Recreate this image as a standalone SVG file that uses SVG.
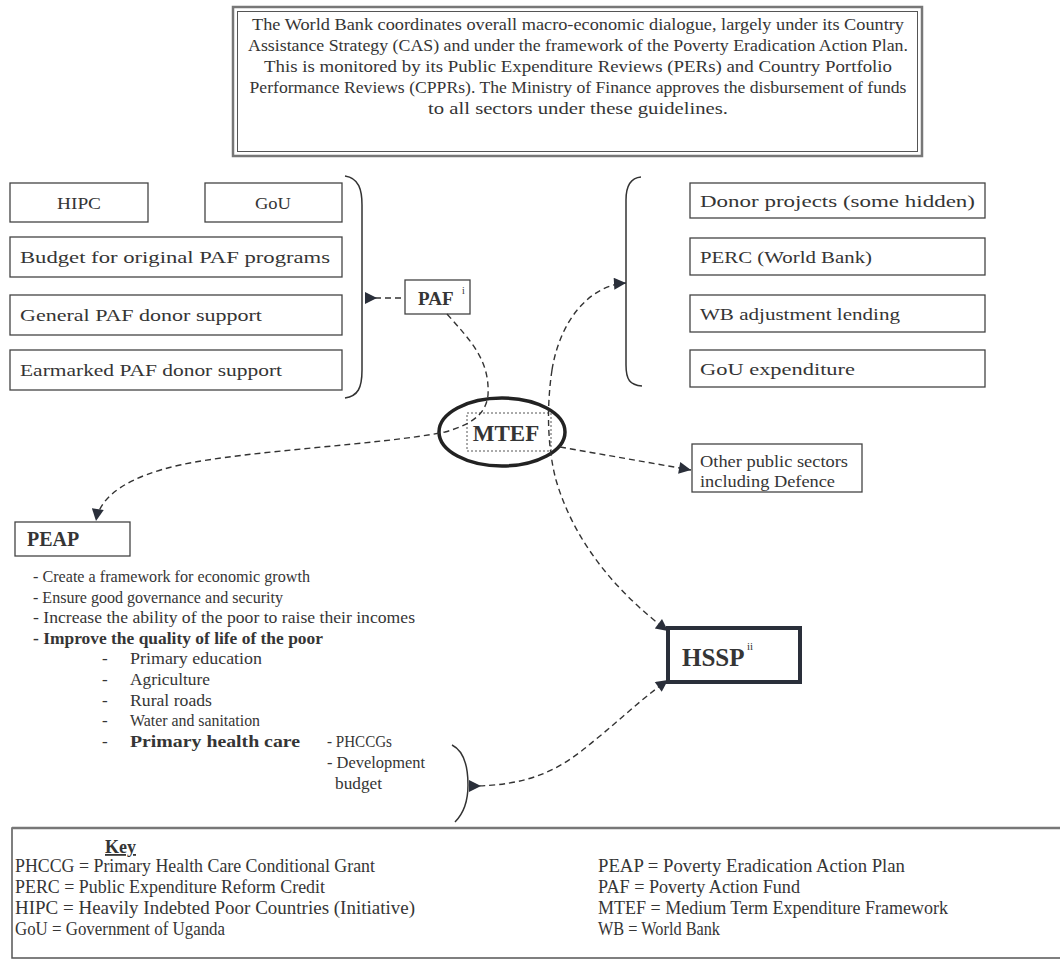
<svg xmlns="http://www.w3.org/2000/svg" width="1060" height="977" viewBox="0 0 1060 977">
<style>
text{font-family:"Liberation Serif","Times New Roman",serif;fill:#353535}
.t{font-size:17px}
.k{font-size:18.5px}
.b{font-weight:bold}
.box{fill:none;stroke:#444;stroke-width:1.3}
.con{fill:none;stroke:#333;stroke-width:1.4;stroke-dasharray:6 4}
.brace{fill:none;stroke:#333;stroke-width:1.5}
</style>
<defs>
<marker id="ah" viewBox="0 0 10 10" refX="10" refY="5" markerWidth="15" markerHeight="12" orient="auto" markerUnits="userSpaceOnUse">
<path d="M0,0 L10,5 L0,10 Z" fill="#2a2f3a"/>
</marker>
<marker id="as" viewBox="0 0 10 10" refX="0" refY="5" markerWidth="15" markerHeight="12" orient="auto" markerUnits="userSpaceOnUse">
<path d="M0,0 L10,5 L0,10 Z" fill="#2a2f3a"/>
</marker>
</defs>
<rect width="1060" height="977" fill="#fff"/>

<g id="top-note">
<rect x="233" y="7" width="689" height="149" fill="none" stroke="#777" stroke-width="2.5"/>
<rect x="237.5" y="11.5" width="680" height="140" fill="none" stroke="#555" stroke-width="1"/>
<text class="t" x="578" y="30" text-anchor="middle" textLength="652" lengthAdjust="spacingAndGlyphs">The World Bank coordinates overall macro-economic dialogue, largely under its Country</text>
<text class="t" x="578" y="51" text-anchor="middle" textLength="660" lengthAdjust="spacingAndGlyphs">Assistance Strategy (CAS) and under the framework of the Poverty Eradication Action Plan.</text>
<text class="t" x="578" y="72" text-anchor="middle" textLength="628" lengthAdjust="spacingAndGlyphs">This is monitored by its Public Expenditure Reviews (PERs) and Country Portfolio</text>
<text class="t" x="578" y="93" text-anchor="middle" textLength="657" lengthAdjust="spacingAndGlyphs">Performance Reviews (CPPRs). The Ministry of Finance approves the disbursement of funds</text>
<text class="t" x="578" y="114" text-anchor="middle" textLength="300" lengthAdjust="spacingAndGlyphs">to all sectors under these guidelines.</text>
</g>

<g id="hipc"><rect class="box" x="10" y="183" width="138" height="39"/><text class="t" x="79" y="209" text-anchor="middle" textLength="44" lengthAdjust="spacingAndGlyphs">HIPC</text></g>
<g id="gou"><rect class="box" x="205" y="183" width="137" height="39"/><text class="t" x="273" y="209" text-anchor="middle" textLength="36" lengthAdjust="spacingAndGlyphs">GoU</text></g>
<g id="budget"><rect class="box" x="10" y="237" width="332" height="40"/><text class="t" x="20" y="263" textLength="310" lengthAdjust="spacingAndGlyphs">Budget for original PAF programs</text></g>
<g id="general"><rect class="box" x="10" y="295" width="332" height="40"/><text class="t" x="20" y="321" textLength="242" lengthAdjust="spacingAndGlyphs">General PAF donor support</text></g>
<g id="earmarked"><rect class="box" x="10" y="350" width="332" height="40"/><text class="t" x="20" y="376" textLength="262" lengthAdjust="spacingAndGlyphs">Earmarked PAF donor support</text></g>

<g id="donor"><rect class="box" x="690" y="183" width="295" height="35"/><text class="t" x="700" y="207" textLength="275" lengthAdjust="spacingAndGlyphs">Donor projects (some hidden)</text></g>
<g id="perc"><rect class="box" x="690" y="238" width="295" height="37"/><text class="t" x="700" y="263" textLength="172" lengthAdjust="spacingAndGlyphs">PERC (World Bank)</text></g>
<g id="wb"><rect class="box" x="690" y="295" width="295" height="37"/><text class="t" x="700" y="320" textLength="200" lengthAdjust="spacingAndGlyphs">WB adjustment lending</text></g>
<g id="gouexp"><rect class="box" x="690" y="350" width="295" height="37"/><text class="t" x="700" y="375" textLength="155" lengthAdjust="spacingAndGlyphs">GoU expenditure</text></g>

<g id="paf"><rect class="box" x="405" y="280" width="65" height="34"/><text class="b" x="418" y="305" font-size="19">PAF</text><text x="462" y="294" font-size="10">i</text></g>

<g id="mtef">
<ellipse cx="502" cy="432" rx="63" ry="34" fill="none" stroke="#222" stroke-width="3.5"/>
<rect x="467" y="413" width="84" height="38" fill="none" stroke="#555" stroke-width="1" stroke-dasharray="2 2"/>
<text class="b" x="506" y="441" font-size="23" text-anchor="middle">MTEF</text>
</g>

<g id="other"><rect class="box" x="692" y="444" width="170" height="48"/><text class="t" x="700" y="467" textLength="148" lengthAdjust="spacingAndGlyphs">Other public sectors</text><text class="t" x="700" y="487" textLength="135" lengthAdjust="spacingAndGlyphs">including Defence</text></g>

<g id="peap"><rect class="box" x="15" y="522" width="115" height="34"/><text class="b" x="27" y="546" font-size="20">PEAP</text></g>

<g id="peap-list">
<text class="t" x="33" y="582" textLength="277" lengthAdjust="spacingAndGlyphs">- Create a framework for economic growth</text>
<text class="t" x="33" y="603" textLength="250" lengthAdjust="spacingAndGlyphs">- Ensure good governance and security</text>
<text class="t" x="33" y="623" textLength="382" lengthAdjust="spacingAndGlyphs">- Increase the ability of the poor to raise their incomes</text>
<text class="t b" x="33" y="644" textLength="290" lengthAdjust="spacingAndGlyphs">- Improve the quality of life of the poor</text>
<text class="t" x="102" y="664">-</text><text class="t" x="130" y="664" textLength="132" lengthAdjust="spacingAndGlyphs">Primary education</text>
<text class="t" x="102" y="685">-</text><text class="t" x="130" y="685" textLength="80" lengthAdjust="spacingAndGlyphs">Agriculture</text>
<text class="t" x="102" y="706">-</text><text class="t" x="130" y="706" textLength="82" lengthAdjust="spacingAndGlyphs">Rural roads</text>
<text class="t" x="102" y="726">-</text><text class="t" x="130" y="726" textLength="130" lengthAdjust="spacingAndGlyphs">Water and sanitation</text>
<text class="t" x="102" y="747">-</text><text class="t b" x="130" y="747" textLength="170" lengthAdjust="spacingAndGlyphs">Primary health care</text>
<text class="t" x="327" y="747" textLength="65" lengthAdjust="spacingAndGlyphs">- PHCCGs</text>
<text class="t" x="327" y="768" textLength="98" lengthAdjust="spacingAndGlyphs">- Development</text>
<text class="t" x="335" y="789" textLength="47" lengthAdjust="spacingAndGlyphs">budget</text>
</g>

<g id="hssp"><rect x="668" y="628" width="132" height="54" fill="none" stroke="#2a2f3a" stroke-width="4"/><text class="b" x="682" y="666" font-size="25">HSSP</text><text x="747" y="650" font-size="11">ii</text></g>

<g id="key">
<rect x="12" y="828" width="1060" height="130" fill="none" stroke="#555" stroke-width="1.5"/>
<line x1="12" y1="828" x2="1060" y2="828" stroke="#777" stroke-width="2.5"/>
<text class="b" x="105" y="853" font-size="18" text-decoration="underline">Key</text>
<text class="k" x="15" y="872" textLength="360" lengthAdjust="spacingAndGlyphs">PHCCG = Primary Health Care Conditional Grant</text>
<text class="k" x="15" y="893" textLength="310" lengthAdjust="spacingAndGlyphs">PERC = Public Expenditure Reform Credit</text>
<text class="k" x="15" y="914" textLength="400" lengthAdjust="spacingAndGlyphs">HIPC = Heavily Indebted Poor Countries (Initiative)</text>
<text class="k" x="15" y="935" textLength="210" lengthAdjust="spacingAndGlyphs">GoU = Government of Uganda</text>
<text class="k" x="598" y="872" textLength="307" lengthAdjust="spacingAndGlyphs">PEAP = Poverty Eradication Action Plan</text>
<text class="k" x="598" y="893" textLength="202" lengthAdjust="spacingAndGlyphs">PAF = Poverty Action Fund</text>
<text class="k" x="598" y="914" textLength="350" lengthAdjust="spacingAndGlyphs">MTEF = Medium Term Expenditure Framework</text>
<text class="k" x="598" y="935" textLength="122" lengthAdjust="spacingAndGlyphs">WB = World Bank</text>
</g>

<g id="connectors">
<path class="brace" d="M345,176 C359,178 362,190 362,205 L362,370 C362,388 358,396 345,398"/>
<path class="con" d="M365,298 L405,298" marker-start="url(#as)"/>
<path class="brace" d="M641,177 C629,178 626,188 626,200 L626,365 C626,380 630,385 642,386"/>
<path class="con" d="M552,370 C560,320 590,285 626,283" marker-end="url(#ah)"/>
<path class="con" d="M552,370 C546,410 548,450 556,480 C575,545 620,595 668,631" marker-end="url(#ah)"/>
<path class="con" d="M447,314 C470,340 490,360 488,395 C486,415 470,425 445,432 C380,445 250,450 180,465 C130,476 100,495 96,521" marker-end="url(#ah)"/>
<path class="con" d="M560,447 L691,470" marker-end="url(#ah)"/>
<path class="brace" d="M452,745 C466,752 468,770 468,785 C468,800 465,812 455,822"/>
<path class="con" d="M469,786 C530,786 560,770 595,740 C620,720 640,700 668,680" marker-start="url(#as)" marker-end="url(#ah)"/>
</g>
</svg>
